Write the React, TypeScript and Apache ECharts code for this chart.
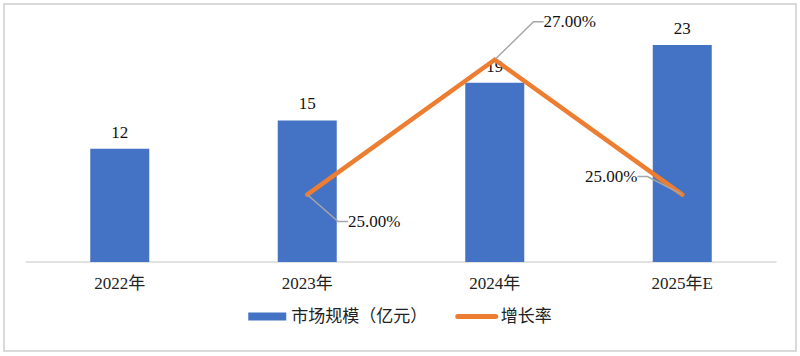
import React, { useEffect, useRef } from "react";
import * as echarts from "echarts";

const categories = ["2022年", "2023年", "2024年", "2025年E"];
const marketSize = [12, 15, 19, 23];
const growthRate: (number | string)[] = ["-", 0.25, 0.27, 0.25];
const seriesNames = ["市场规模（亿元）", "增长率"];
// label offsets (px) of growth-rate labels relative to the point
const growthLabelOffsets: [number, number][] = [
  [0, 0],
  [67, 27],
  [75, -38],
  [-71, -18],
];

const FONT = "'Liberation Serif', 'Times New Roman', 'Noto Sans CJK SC', serif";

export default function App() {
  const ref = useRef<HTMLDivElement>(null);
  useEffect(() => {
    if (!ref.current) return;
    const chart = echarts.init(ref.current, undefined, { renderer: "svg" });
    chart.setOption({
      animation: false,
      textStyle: { fontFamily: FONT },
      graphic: [
        {
          type: "rect",
          shape: { x: 4, y: 4, width: 792, height: 347 },
          style: { fill: "none", stroke: "#d9d9d9", lineWidth: 2 },
          silent: true,
        },
      ],
      grid: { left: 26, right: 24, top: 26, bottom: 94, containLabel: false },
      legend: {
        bottom: 26,
        left: "center",
        itemWidth: 38,
        itemHeight: 8,
        itemGap: 28,
        textStyle: { fontFamily: FONT, fontSize: 17, color: "#222" },
        data: [
          { name: seriesNames[0], icon: "rect" },
          { name: seriesNames[1], itemStyle: { opacity: 0 }, lineStyle: { width: 5, cap: "round" } },
        ],
      },
      xAxis: {
        type: "category",
        data: categories,
        axisLine: { lineStyle: { color: "#d9d9d9", width: 1.5 } },
        axisTick: { show: false },
        axisLabel: { fontFamily: FONT, fontSize: 17, color: "#222", margin: 13 },
      },
      yAxis: [
        { type: "value", min: 0, max: 25, show: false, splitLine: { show: false } },
        { type: "value", min: 0.24, max: 0.275, show: false, splitLine: { show: false } },
      ],
      series: [
        {
          name: seriesNames[0],
          type: "bar",
          data: marketSize,
          barWidth: 59,
          itemStyle: { color: "#4472C4" },
          label: {
            show: true,
            position: "top",
            distance: 8,
            fontFamily: FONT,
            fontSize: 17,
            color: "#111",
          },
        },
        {
          name: seriesNames[1],
          type: "line",
          yAxisIndex: 1,
          data: growthRate,
          symbol: "circle",
          symbolSize: 2,
          itemStyle: { color: "#ED7D31" },
          lineStyle: { color: "#ED7D31", width: 4.5, cap: "round", join: "miter" },
          label: {
            show: true,
            position: "inside",
            padding: [0, 4],
            fontFamily: FONT,
            fontSize: 17,
            color: "#111",
            formatter: (p: any) => (Number(p.value) * 100).toFixed(2) + "%",
          },
          labelLine: {
            show: true,
            length2: 10,
            lineStyle: { color: "#a6a6a6", width: 1.5 },
          },
          labelLayout: (params: any) => {
            const off = growthLabelOffsets[params.dataIndex] || [0, 0];
            return { dx: off[0], dy: off[1] };
          },
        },
      ],
    });
    return () => chart.dispose();
  }, []);
  return (
    <div
      ref={ref}
      style={{ position: "fixed", left: 0, top: 0, width: 800, height: 356, background: "#fff" }}
    />
  );
}
